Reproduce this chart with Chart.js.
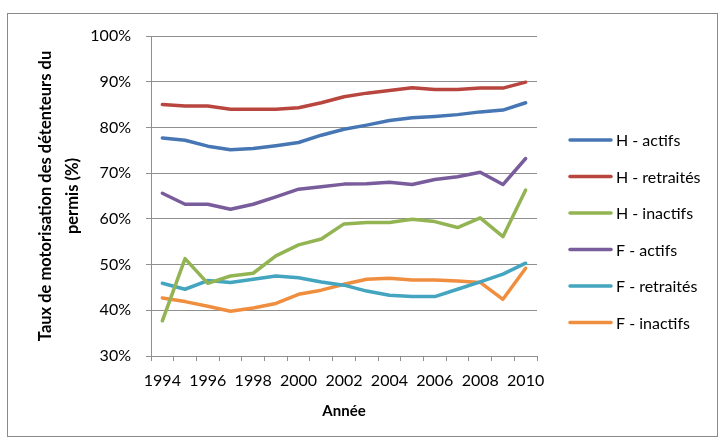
<!DOCTYPE html>
<html>
<head>
<meta charset="utf-8">
<title>Taux de motorisation</title>
<script src="https://cdn.jsdelivr.net/npm/chart.js@4.4.1/dist/chart.umd.min.js"></script>
<style>
  html, body { margin: 0; padding: 0; background: #fff; }
  #wrap { position: relative; width: 725px; height: 441px; }
</style>
</head>
<body>
<div id="wrap"><canvas id="myChart"></canvas></div>
<script>
// data
var years = ['1994','1995','1996','1997','1998','1999','2000','2001','2002','2003','2004','2005','2006','2007','2008','2009','2010'];
var seriesNames = ['H - actifs', 'H - retraités', 'H - inactifs', 'F - actifs', 'F - retraités', 'F - inactifs'];
var hActifs     = [77.7, 77.2, 75.9, 75.1, 75.4, 76.0, 76.7, 78.3, 79.6, 80.5, 81.5, 82.1, 82.4, 82.8, 83.4, 83.8, 85.4];
var hRetraites  = [85.0, 84.7, 84.7, 84.0, 84.0, 84.0, 84.3, 85.4, 86.7, 87.5, 88.1, 88.7, 88.3, 88.3, 88.6, 88.6, 89.9];
var hInactifs   = [37.7, 51.3, 45.9, 47.5, 48.1, 51.9, 54.3, 55.6, 58.9, 59.2, 59.2, 59.9, 59.4, 58.1, 60.2, 56.1, 66.3];
var fActifs     = [65.6, 63.2, 63.2, 62.1, 63.2, 64.8, 66.5, 67.0, 67.6, 67.7, 68.0, 67.5, 68.6, 69.2, 70.2, 67.5, 73.2];
var fRetraites  = [45.9, 44.6, 46.5, 46.1, 46.8, 47.5, 47.1, 46.2, 45.5, 44.2, 43.3, 43.0, 43.0, 44.6, 46.2, 47.9, 50.3];
var fInactifs   = [42.7, 41.9, 40.9, 39.8, 40.5, 41.5, 43.5, 44.4, 45.7, 46.8, 47.0, 46.6, 46.6, 46.4, 46.1, 42.4, 49.2];
var colors = ['#4677b4', '#b8463f', '#93b452', '#785c9b', '#43a5bf', '#f08e3f'];

var allSeries = [hActifs, hRetraites, hInactifs, fActifs, fRetraites, fInactifs];
var datasets = allSeries.map(function(vals, i) {
    return {
        label: seriesNames[i],
        data: vals,
        borderColor: colors[i],
        backgroundColor: colors[i],
        borderWidth: 3.5,
        pointRadius: 0,
        tension: 0,
        borderJoinStyle: 'round',
        borderCapStyle: 'round',
        fill: false
    };
});

var gridGray = '#8f8f8f';

// outer frame + legend drawn by hand, Excel style
var framePlugin = {
    id: 'frame',
    beforeDraw: function(chart) {
        var ctx = chart.ctx;
        ctx.save();
        ctx.fillStyle = '#fff';
        ctx.fillRect(0, 0, chart.width, chart.height);
        ctx.strokeStyle = '#8a8a8a';
        ctx.lineWidth = 1;
        ctx.strokeRect(7.5, 13.5, 710, 423);
        ctx.restore();
    },
    afterDraw: function(chart) {
        var ctx = chart.ctx;
        ctx.save();
        ctx.font = '16px Lato';
        ctx.textBaseline = 'middle';
        ctx.lineCap = 'round';
        chart.data.datasets.forEach(function(ds, i) {
            var y = 140 + i * 36.5;
            ctx.strokeStyle = ds.borderColor;
            ctx.lineWidth = 3.5;
            ctx.beginPath();
            ctx.moveTo(570, y);
            ctx.lineTo(611, y);
            ctx.stroke();
            ctx.fillStyle = '#000';
            ctx.fillText(ds.label, 616, y + 1);
        });
        ctx.restore();
    }
};

var ctx = document.getElementById('myChart').getContext('2d');
var chart = new Chart(ctx, {
    type: 'line',
    data: { labels: years, datasets: datasets },
    plugins: [framePlugin],
    options: {
        responsive: true,
        maintainAspectRatio: false,
        animation: false,
        layout: { padding: { left: 8, right: 188, top: 36, bottom: 14 } },
        plugins: { legend: { display: false }, tooltip: { enabled: false } },
        scales: {
            x: {
                offset: true,
                afterFit: function(scale) { scale.height = 71; },
                grid: { drawOnChartArea: false, offset: true, color: gridGray, tickLength: 5 },
                border: { color: gridGray },
                ticks: {
                    autoSkip: false,
                    maxRotation: 0,
                    padding: 10,
                    color: '#000',
                    font: { family: 'Lato', size: 16 },
                    callback: function(v, i) { return i % 2 === 0 ? years[i] : ''; }
                },
                title: {
                    display: true,
                    text: 'Année',
                    color: '#000',
                    font: { family: 'Lato', size: 15, weight: 'bold' },
                    padding: { top: 0, bottom: 7 }
                }
            },
            y: {
                min: 30,
                max: 100,
                afterFit: function(scale) { scale.width = 143; },
                grid: { color: gridGray, tickLength: 5 },
                border: { color: gridGray },
                ticks: {
                    stepSize: 10,
                    padding: 15,
                    color: '#000',
                    font: { family: 'Lato', size: 16 },
                    callback: function(v) { return v + '%'; }
                },
                title: {
                    display: true,
                    text: ['Taux de motorisation des détenteurs du', 'permis (%)'],
                    color: '#000',
                    font: { family: 'Lato', size: 16.5, weight: 'bold', lineHeight: 1.65 },
                    padding: { top: 24, bottom: 0 }
                }
            }
        }
    }
});
</script>
</body>
</html>
